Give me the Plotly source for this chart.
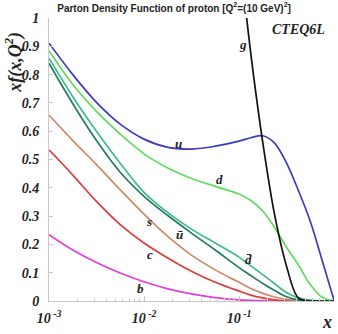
import plotly.graph_objects as go

# x grid (momentum fraction), roughly evenly spaced in log10(x)
x_vals = [0.001, 0.00178, 0.00316, 0.00562, 0.01, 0.0178, 0.0316, 0.0562, 0.1,
          0.133, 0.178, 0.237, 0.316, 0.422, 0.562, 0.75, 1.0]

u_vals = [0.911, 0.800, 0.702, 0.625, 0.572, 0.543, 0.537, 0.547, 0.565,
          0.577, 0.584, 0.558, 0.488, 0.390, 0.282, 0.144, 0.003]
d_vals = [0.884, 0.765, 0.670, 0.590, 0.520, 0.470, 0.433, 0.405, 0.378,
          0.355, 0.318, 0.260, 0.190, 0.128, 0.058, 0.013, 0.0]
dbar_vals = [0.858, 0.722, 0.600, 0.487, 0.384, 0.312, 0.254, 0.205, 0.155,
             0.124, 0.093, 0.061, 0.030, 0.011, 0.003, 0.0, 0.0]
ubar_vals = [0.840, 0.697, 0.567, 0.455, 0.370, 0.302, 0.240, 0.180, 0.118,
             0.090, 0.062, 0.037, 0.015, 0.004, 0.001, 0.0, 0.0]
s_vals = [0.657, 0.567, 0.482, 0.393, 0.307, 0.228, 0.162, 0.110, 0.066,
          0.044, 0.027, 0.014, 0.006, 0.002, 0.0, 0.0, 0.0]
c_vals = [0.534, 0.445, 0.352, 0.270, 0.205, 0.152, 0.105, 0.066, 0.035,
          0.021, 0.011, 0.004, 0.001, 0.0, 0.0, 0.0, 0.0]
b_vals = [0.234, 0.180, 0.136, 0.099, 0.068, 0.043, 0.025, 0.012, 0.004,
          0.002, 0.001, 0.0, 0.0, 0.0, 0.0, 0.0, 0.0]
g_vals = [None, None, None, None, None, None, None, None, 1.25,
          0.875, 0.560, 0.305, 0.124, 0.011, 0.0, 0.0, 0.0]

series = [
    ("b", b_vals, "#e040d8"),
    ("c", c_vals, "#dc3c3c"),
    ("s", s_vals, "#cc8a66"),
    ("ubar", ubar_vals, "#237a66"),
    ("dbar", dbar_vals, "#3cbb8c"),
    ("d", d_vals, "#5fdc5f"),
    ("u", u_vals, "#3c3cbe"),
    ("g", g_vals, "#111111"),
]

# curve labels: (text, log10 x, y)
label_text = ["g", "u", "d", "s", "ū", "c", "d̄", "b"]
label_logx = [-0.961, -1.632, -1.207, -1.944, -1.624, -1.94, -0.905, -2.042]
label_y = [0.905, 0.555, 0.428, 0.28, 0.235, 0.163, 0.148, 0.045]

y_ticks = [0, 0.1, 0.2, 0.3, 0.4, 0.5, 0.6, 0.7, 0.8, 0.9, 1.0]
y_ticktext = ["0", "0.1", "0.2", "0.3", "0.4", "0.5", "0.6", "0.7", "0.8", "0.9", "1"]
x_ticks = [0.001, 0.01, 0.1]
x_ticktext = ["10<sup> -3</sup>", "10<sup> -2</sup>", "10<sup> -1</sup>"]
x_minor = [k * 10 ** e for e in (-3, -2, -1) for k in range(2, 10)]

SERIF = "Liberation Serif, Times New Roman, serif"

fig = go.Figure()
for name, vals, col in series:
    fig.add_trace(go.Scatter(x=x_vals, y=vals, mode="lines", name=name,
                             line=dict(color=col, width=1.7, shape="spline", smoothing=1.0),
                             showlegend=False, hoverinfo="skip"))

for t, lx, ly in zip(label_text, label_logx, label_y):
    fig.add_annotation(x=lx, y=ly, xref="x", yref="y", text=t, showarrow=False,
                       font=dict(family=SERIF, size=13, color="#222", weight="bold", style="italic"))

fig.add_annotation(x=0.975, y=0.958, xref="paper", yref="paper", text="CTEQ6L",
                   xanchor="right", yanchor="middle", showarrow=False,
                   font=dict(family=SERIF, size=14, color="#222", weight="bold", style="italic"))
fig.add_annotation(x=-0.123, y=0.845, xref="paper", yref="paper", text="xf(x,Q<sup>2</sup>)",
                   textangle=-90, showarrow=False, xanchor="center", yanchor="middle",
                   font=dict(family=SERIF, size=18, color="#222", weight="bold", style="italic"))
fig.add_annotation(x=0.975, y=-0.074, xref="paper", yref="paper", text="x",
                   showarrow=False, xanchor="center", yanchor="middle",
                   font=dict(family=SERIF, size=18, color="#222", weight="bold", style="italic"))

fig.update_layout(
    width=338, height=334,
    margin=dict(l=49, r=4, t=18, b=33),
    paper_bgcolor="white", plot_bgcolor="white",
    title=dict(text="Parton Density Function of proton [Q<sup>2</sup>=(10 GeV)<sup>2</sup>]",
               x=0.515, y=0.976, xref="container", yref="container",
               xanchor="center", yanchor="middle",
               font=dict(family="Liberation Sans, Arial, sans-serif", size=10, color="#222", weight="bold")),
    xaxis=dict(type="log", range=[-3, 0], showgrid=False, zeroline=False,
               showline=True, linecolor="#c8c8c8", linewidth=1,
               tickmode="array", tickvals=x_ticks, ticktext=x_ticktext,
               ticks="inside", ticklen=5, tickcolor="#c8c8c8",
               minor=dict(tickmode="array", tickvals=x_minor, ticks="inside", ticklen=3,
                          tickcolor="#d0d0d0", showgrid=False),
               ticklabelstandoff=4,
               tickfont=dict(family=SERIF, size=14, color="#222", weight="bold", style="italic")),
    yaxis=dict(range=[0, 1], showgrid=False, zeroline=False,
               showline=True, linecolor="#c8c8c8", linewidth=1,
               tickmode="array", tickvals=y_ticks, ticktext=y_ticktext,
               ticks="inside", ticklen=4, tickcolor="#c8c8c8",
               ticklabelstandoff=6,
               tickfont=dict(family=SERIF, size=14, color="#222", weight="bold", style="italic")),
)

fig.write_html("out.html")
